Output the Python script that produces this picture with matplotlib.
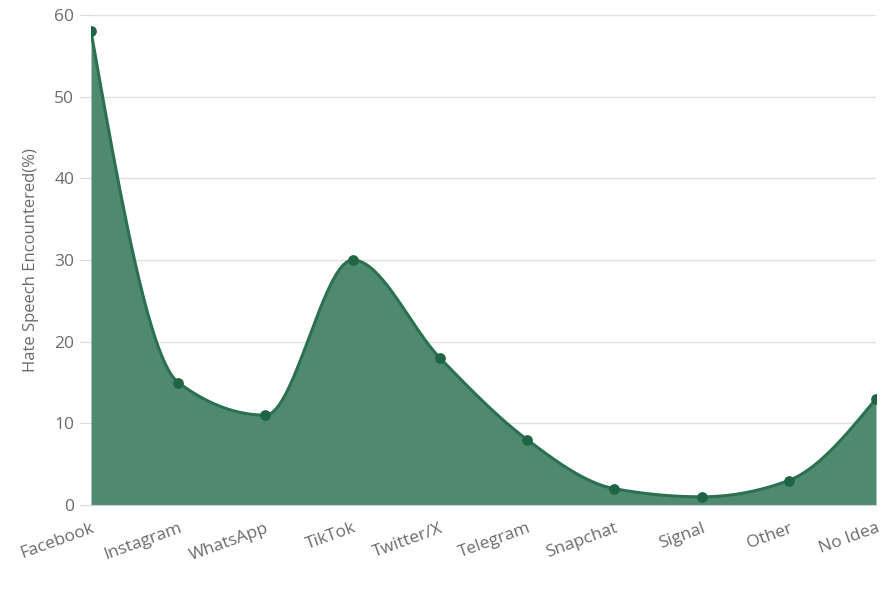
import numpy as np
import matplotlib.pyplot as plt

platforms = ["Facebook", "Instagram", "WhatsApp", "TikTok", "Twitter/X",
             "Telegram", "Snapchat", "Signal", "Other", "No Idea"]
hate_pct = [58, 15, 11, 30, 18, 8, 2, 1, 3, 13]
y_ticks = [0, 10, 20, 30, 40, 50, 60]

fill_color = "#4f8a6f"
line_color = "#2b7150"
dot_color = "#1f6443"
text_color = "#6b6b6b"


def monotone_curve(x, y, n=40):
    # monotone cubic (same idea as d3 curveMonotoneX)
    x = np.asarray(x, float)
    y = np.asarray(y, float)
    h = np.diff(x)
    s = np.diff(y) / h
    m = np.zeros_like(y)
    for i in range(1, len(y) - 1):
        p = (s[i - 1] * h[i] + s[i] * h[i - 1]) / (h[i - 1] + h[i])
        m[i] = (np.sign(s[i - 1]) + np.sign(s[i])) * min(abs(s[i - 1]), abs(s[i]), 0.5 * abs(p))
    m[0] = (3 * s[0] - m[1]) / 2
    m[-1] = (3 * s[-1] - m[-2]) / 2
    xs, ys = [], []
    for i in range(len(h)):
        t = np.linspace(0, 1, n, endpoint=(i == len(h) - 1))
        h00 = 2 * t**3 - 3 * t**2 + 1
        h10 = t**3 - 2 * t**2 + t
        h01 = -2 * t**3 + 3 * t**2
        h11 = t**3 - t**2
        xs.append(x[i] + t * h[i])
        ys.append(h00 * y[i] + h10 * h[i] * m[i] + h01 * y[i + 1] + h11 * h[i] * m[i + 1])
    return np.concatenate(xs), np.concatenate(ys)


plt.rcParams["font.family"] = ["Open Sans", "DejaVu Sans"]

fig = plt.figure(figsize=(8.91, 5.91), dpi=100)
ax = fig.add_axes([91 / 891, 86 / 591, 785 / 891, 490 / 591])

xpos = np.arange(len(platforms))
cx, cy = monotone_curve(xpos, hate_pct)

ax.fill_between(cx, 0, cy, color=fill_color, lw=0, zorder=2)
ax.plot(cx, cy, color=line_color, lw=2.2, zorder=3)
ax.scatter(xpos, hate_pct, s=45, color=dot_color, zorder=4)

ax.set_xlim(0, len(platforms) - 1)
ax.set_ylim(0, 60)
ax.set_yticks(y_ticks)
ax.set_xticks(xpos)
ax.set_xticklabels(platforms, rotation=20, ha="right", rotation_mode="anchor")

ax.grid(axis="y", color="#e0e0e0", lw=1, zorder=0)
for sp in ["top", "right", "left"]:
    ax.spines[sp].set_visible(False)
ax.spines["bottom"].set_color("#cfcfcf")
ax.tick_params(axis="y", length=8, color="#d9d9d9", labelsize=12.5, labelcolor=text_color, pad=4)
ax.tick_params(axis="x", length=0, labelsize=12.5, labelcolor=text_color, pad=11)

ax.set_ylabel("Hate Speech Encountered(%)", fontsize=12, color=text_color, labelpad=11)

fig.savefig("out.png", dpi=100)
